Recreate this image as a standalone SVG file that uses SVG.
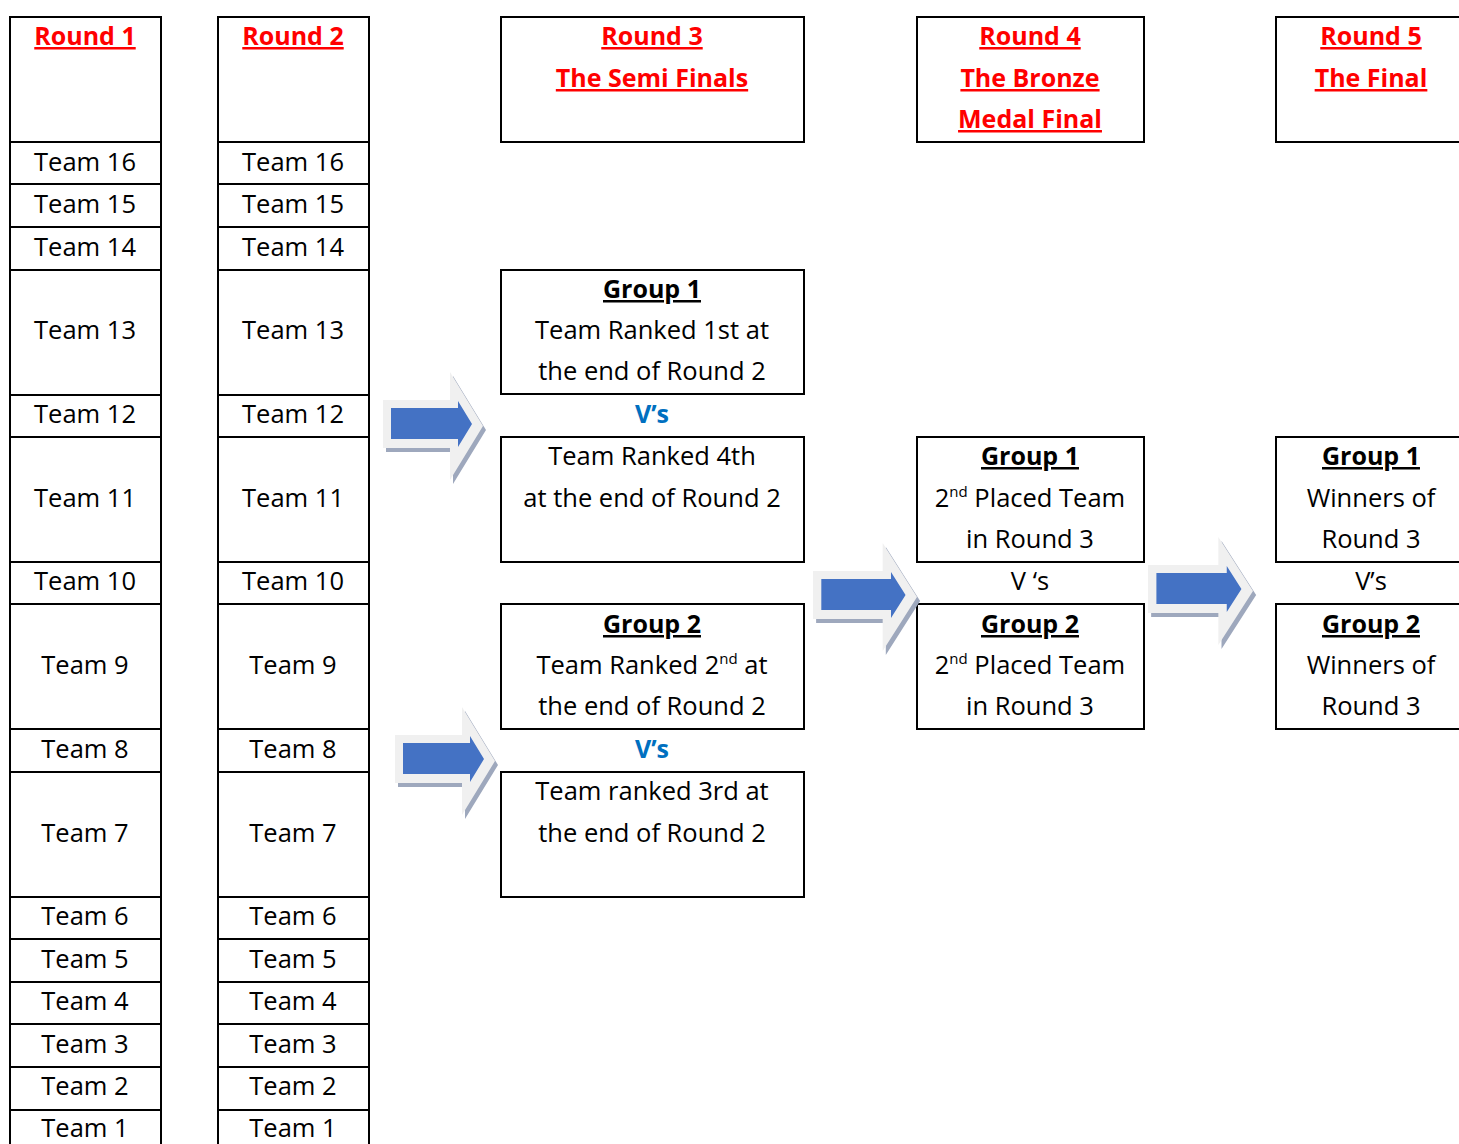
<svg xmlns="http://www.w3.org/2000/svg" xmlns:xlink="http://www.w3.org/1999/xlink" width="1459" height="1144" viewBox="0 0 1459 1144">
<style>
  .box { fill: #ffffff; stroke: #000000; stroke-width: 2; }
  .ln { stroke: #000000; stroke-width: 2; }
  text { font-family: "Open Sans", "Noto Sans", "DejaVu Sans", sans-serif; font-size: 25.5px; fill: #000000; text-anchor: middle; }
  .hdr { font-weight: bold; fill: #ff0000; font-size: 25px; text-decoration: underline; }
  .grp { font-weight: bold; font-size: 25px; text-decoration: underline; }
  .vs { font-weight: bold; fill: #0070c0; font-size: 25px; }
  .sup { font-size: 15px; }
</style>
<defs>
  <g id="arrow">
    <path d="M3,32 L70,32 L70,4 L103,58 L70,112 L70,80 L3,80 Z" fill="#9ea8bd"/>
    <path d="M0,28 L67,28 L67,0 L100,54 L67,108 L67,76 L0,76 Z" fill="#f0f0f0"/>
    <path d="M8,36 L75,36 L75,29 L89,52 L75,75 L75,67 L8,67 Z" fill="#4472c4"/>
  </g>
</defs>
<rect width="1459" height="1144" fill="#ffffff"/>

<g id="round1">
  <rect class="box" x="10" y="17" width="151" height="1140"/>
  <line class="ln" x1="10" y1="142" x2="161" y2="142"/>
  <line class="ln" x1="10" y1="184" x2="161" y2="184"/>
  <line class="ln" x1="10" y1="227" x2="161" y2="227"/>
  <line class="ln" x1="10" y1="270" x2="161" y2="270"/>
  <line class="ln" x1="10" y1="395" x2="161" y2="395"/>
  <line class="ln" x1="10" y1="437" x2="161" y2="437"/>
  <line class="ln" x1="10" y1="562" x2="161" y2="562"/>
  <line class="ln" x1="10" y1="604" x2="161" y2="604"/>
  <line class="ln" x1="10" y1="729" x2="161" y2="729"/>
  <line class="ln" x1="10" y1="772" x2="161" y2="772"/>
  <line class="ln" x1="10" y1="897" x2="161" y2="897"/>
  <line class="ln" x1="10" y1="939" x2="161" y2="939"/>
  <line class="ln" x1="10" y1="982" x2="161" y2="982"/>
  <line class="ln" x1="10" y1="1024" x2="161" y2="1024"/>
  <line class="ln" x1="10" y1="1067" x2="161" y2="1067"/>
  <line class="ln" x1="10" y1="1110" x2="161" y2="1110"/>
  <text class="hdr" x="85" y="45">Round 1</text>
  <text x="85" y="171">Team 16</text>
  <text x="85" y="213">Team 15</text>
  <text x="85" y="256">Team 14</text>
  <text x="85" y="339">Team 13</text>
  <text x="85" y="423">Team 12</text>
  <text x="85" y="507">Team 11</text>
  <text x="85" y="590">Team 10</text>
  <text x="85" y="674">Team 9</text>
  <text x="85" y="758">Team 8</text>
  <text x="85" y="842">Team 7</text>
  <text x="85" y="925">Team 6</text>
  <text x="85" y="968">Team 5</text>
  <text x="85" y="1010">Team 4</text>
  <text x="85" y="1053">Team 3</text>
  <text x="85" y="1095">Team 2</text>
  <text x="85" y="1137">Team 1</text>
</g>

<g id="round2">
  <rect class="box" x="218" y="17" width="151" height="1140"/>
  <line class="ln" x1="218" y1="142" x2="369" y2="142"/>
  <line class="ln" x1="218" y1="184" x2="369" y2="184"/>
  <line class="ln" x1="218" y1="227" x2="369" y2="227"/>
  <line class="ln" x1="218" y1="270" x2="369" y2="270"/>
  <line class="ln" x1="218" y1="395" x2="369" y2="395"/>
  <line class="ln" x1="218" y1="437" x2="369" y2="437"/>
  <line class="ln" x1="218" y1="562" x2="369" y2="562"/>
  <line class="ln" x1="218" y1="604" x2="369" y2="604"/>
  <line class="ln" x1="218" y1="729" x2="369" y2="729"/>
  <line class="ln" x1="218" y1="772" x2="369" y2="772"/>
  <line class="ln" x1="218" y1="897" x2="369" y2="897"/>
  <line class="ln" x1="218" y1="939" x2="369" y2="939"/>
  <line class="ln" x1="218" y1="982" x2="369" y2="982"/>
  <line class="ln" x1="218" y1="1024" x2="369" y2="1024"/>
  <line class="ln" x1="218" y1="1067" x2="369" y2="1067"/>
  <line class="ln" x1="218" y1="1110" x2="369" y2="1110"/>
  <text class="hdr" x="293" y="45">Round 2</text>
  <text x="293" y="171">Team 16</text>
  <text x="293" y="213">Team 15</text>
  <text x="293" y="256">Team 14</text>
  <text x="293" y="339">Team 13</text>
  <text x="293" y="423">Team 12</text>
  <text x="293" y="507">Team 11</text>
  <text x="293" y="590">Team 10</text>
  <text x="293" y="674">Team 9</text>
  <text x="293" y="758">Team 8</text>
  <text x="293" y="842">Team 7</text>
  <text x="293" y="925">Team 6</text>
  <text x="293" y="968">Team 5</text>
  <text x="293" y="1010">Team 4</text>
  <text x="293" y="1053">Team 3</text>
  <text x="293" y="1095">Team 2</text>
  <text x="293" y="1137">Team 1</text>
</g>

<g id="round3-header">
  <rect class="box" x="501" y="17" width="303" height="125"/>
  <text class="hdr" x="652" y="45">Round 3</text>
  <text class="hdr" x="652" y="87">The Semi Finals</text>
</g>
<g id="round4-header">
  <rect class="box" x="917" y="17" width="227" height="125"/>
  <text class="hdr" x="1030" y="45">Round 4</text>
  <text class="hdr" x="1030" y="87">The Bronze</text>
  <text class="hdr" x="1030" y="128">Medal Final</text>
</g>
<g id="round5-header">
  <rect class="box" x="1276" y="17" width="200" height="125"/>
  <text class="hdr" x="1371" y="45">Round 5</text>
  <text class="hdr" x="1371" y="87">The Final</text>
</g>

<g id="r3-group1-a">
  <rect class="box" x="501" y="270" width="303" height="124"/>
  <text class="grp" x="652" y="298">Group 1</text>
  <text x="652" y="339">Team Ranked 1st at</text>
  <text x="652" y="380">the end of Round 2</text>
</g>
<g id="r3-vs1"><text class="vs" x="652" y="423">V’s</text></g>
<g id="r3-group1-b">
  <rect class="box" x="501" y="437" width="303" height="125"/>
  <text x="652" y="465">Team Ranked 4th</text>
  <text x="652" y="507">at the end of Round 2</text>
</g>
<g id="r3-group2-a">
  <rect class="box" x="501" y="604" width="303" height="125"/>
  <text class="grp" x="652" y="633">Group 2</text>
  <text x="652" y="674">Team Ranked 2<tspan class="sup" dy="-10">nd</tspan><tspan dy="10"> at</tspan></text>
  <text x="652" y="715">the end of Round 2</text>
</g>
<g id="r3-vs2"><text class="vs" x="652" y="758">V’s</text></g>
<g id="r3-group2-b">
  <rect class="box" x="501" y="772" width="303" height="125"/>
  <text x="652" y="800">Team ranked 3rd at</text>
  <text x="652" y="842">the end of Round 2</text>
</g>

<g id="r4-group1">
  <rect class="box" x="917" y="437" width="227" height="125"/>
  <text class="grp" x="1030" y="465">Group 1</text>
  <text x="1030" y="507">2<tspan class="sup" dy="-10">nd</tspan><tspan dy="10"> Placed Team</tspan></text>
  <text x="1030" y="548">in Round 3</text>
</g>
<g id="r4-vs"><text x="1030" y="590">V ‘s</text></g>
<g id="r4-group2">
  <rect class="box" x="917" y="604" width="227" height="125"/>
  <text class="grp" x="1030" y="633">Group 2</text>
  <text x="1030" y="674">2<tspan class="sup" dy="-10">nd</tspan><tspan dy="10"> Placed Team</tspan></text>
  <text x="1030" y="715">in Round 3</text>
</g>

<g id="r5-group1">
  <rect class="box" x="1276" y="437" width="200" height="125"/>
  <text class="grp" x="1371" y="465">Group 1</text>
  <text x="1371" y="507">Winners of</text>
  <text x="1371" y="548">Round 3</text>
</g>
<g id="r5-vs"><text x="1371" y="590">V’s</text></g>
<g id="r5-group2">
  <rect class="box" x="1276" y="604" width="200" height="125"/>
  <text class="grp" x="1371" y="633">Group 2</text>
  <text x="1371" y="674">Winners of</text>
  <text x="1371" y="715">Round 3</text>
</g>

<g id="connectors">
  <use xlink:href="#arrow" transform="translate(383,372)"/>
  <use xlink:href="#arrow" transform="translate(395,707)"/>
  <use xlink:href="#arrow" transform="translate(813,543) scale(1.04,1)"/>
  <use xlink:href="#arrow" transform="translate(1148,537) scale(1.05,1)"/>
</g>
</svg>
